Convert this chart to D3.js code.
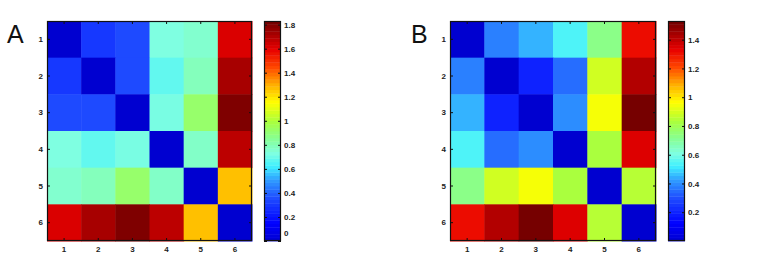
<!DOCTYPE html>
<html>
<head>
<meta charset="utf-8">
<script src="https://cdn.jsdelivr.net/npm/d3@7"></script>
<style>
  body { margin: 0; background: #fff; }
  svg { display: block; }
  text { font-family: "Liberation Sans", Arial, sans-serif; }
</style>
</head>
<body>
<div id="chart"></div>
<script>
// node labels on both axes
const nodes = [1, 2, 3, 4, 5, 6];

// panel A distance matrix (symmetric)
const distA = [
  [0.00, 0.30, 0.35, 0.73, 0.76, 1.62],
  [0.30, 0.00, 0.35, 0.68, 0.79, 1.72],
  [0.35, 0.35, 0.00, 0.72, 0.92, 1.80],
  [0.73, 0.68, 0.72, 0.00, 0.77, 1.68],
  [0.76, 0.79, 0.92, 0.77, 0.00, 1.27],
  [1.62, 1.72, 1.80, 1.68, 1.27, 0.00]
];

// panel B distance matrix (symmetric)
const distB = [
  [0.00, 0.38, 0.45, 0.54, 0.73, 1.31],
  [0.38, 0.00, 0.20, 0.35, 0.89, 1.42],
  [0.45, 0.20, 0.00, 0.40, 0.95, 1.52],
  [0.54, 0.35, 0.40, 0.00, 0.83, 1.35],
  [0.73, 0.89, 0.95, 0.83, 0.00, 0.85],
  [1.31, 1.42, 1.52, 1.35, 0.85, 0.00]
];

// colour limits and colorbar ticks
const climA = [0, 1.83];
const climB = [0, 1.53];
const ticksA = [0, 0.2, 0.4, 0.6, 0.8, 1, 1.2, 1.4, 1.6, 1.8];
const ticksB = [0.2, 0.4, 0.6, 0.8, 1, 1.2, 1.4];

// jet-like colormap as rendered in the figure
const jetPos = [0, 0.08, 0.2, 0.28, 0.34, 0.40, 0.47, 0.54, 0.63, 0.71, 0.79, 0.87, 1];
const jetCol = ["#0000d0", "#0000ff", "#2050ff", "#30a0ff", "#40f0ff", "#80ffe0",
                "#88ff90", "#a8ff40", "#ffff00", "#ffb000", "#ff4800", "#e80000", "#700000"];

const width = 764, height = 272;

const svg = d3.select("#chart")
  .append("svg")
  .attr("width", width)
  .attr("height", height);

const panels = [
  { name: "A", data: distA, clim: climA, ticks: ticksA, x: 47, w: 205, cbx: 264, lx: 7 },
  { name: "B", data: distB, clim: climB, ticks: ticksB, x: 450, w: 206, cbx: 668, lx: 411 }
];

const plotTop = 21, plotH = 220, cbW = 17;

panels.forEach(function(p) {
  const plotW = p.w;

  const frac = d3.scaleLinear().domain(p.clim).range([0, 1]).clamp(true);
  const cmap = d3.scaleLinear().domain(jetPos).range(jetCol).interpolate(d3.interpolateRgb);
  const color = v => cmap(frac(v));

  const x = d3.scaleBand().domain(nodes).range([0, plotW]);
  const y = d3.scaleBand().domain(nodes).range([0, plotH]);

  const g = svg.append("g")
    .attr("transform", "translate(" + p.x + "," + plotTop + ")");

  const cells = [];
  p.data.forEach(function(row, i) {
    row.forEach(function(v, j) { cells.push({ r: nodes[i], c: nodes[j], v: v }); });
  });

  g.selectAll("rect.cell")
    .data(cells)
    .enter()
    .append("rect")
    .attr("class", "cell")
    .attr("x", d => x(d.c))
    .attr("y", d => y(d.r))
    .attr("width", x.bandwidth() + 0.5)
    .attr("height", y.bandwidth() + 0.5)
    .attr("fill", d => color(d.v));

  const styleAxis = function(sel) {
    sel.select(".domain").remove();
    sel.selectAll(".tick line").attr("stroke", "#111");
    sel.selectAll(".tick text")
      .attr("fill", "#222")
      .style("font-size", "8px")
      .style("font-weight", "bold");
  };

  g.append("g")
    .attr("transform", "translate(0," + plotH + ")")
    .call(d3.axisBottom(x).tickSize(-3).tickPadding(5))
    .call(styleAxis);
  g.append("g")
    .call(d3.axisTop(x).tickSize(-3).tickFormat(""))
    .call(styleAxis);
  g.append("g")
    .call(d3.axisLeft(y).tickSize(-3).tickPadding(4))
    .call(styleAxis);
  g.append("g")
    .attr("transform", "translate(" + plotW + ",0)")
    .call(d3.axisRight(y).tickSize(-3).tickFormat(""))
    .call(styleAxis);

  g.append("rect")
    .attr("x", 0.5).attr("y", 0.5)
    .attr("width", plotW - 1).attr("height", plotH - 1)
    .attr("fill", "none")
    .attr("stroke", "#111")
    .attr("stroke-width", 1.2);

  // panel letter
  svg.append("text")
    .attr("x", p.lx)
    .attr("y", 43)
    .style("font-size", "25px")
    .attr("fill", "#111")
    .text(p.name);

  // colorbar
  const cb = svg.append("g")
    .attr("transform", "translate(" + p.cbx + "," + plotTop + ")");
  const cy = d3.scaleLinear().domain(p.clim).range([plotH, 0]);
  const nBands = 64;
  const bandH = plotH / nBands;

  cb.selectAll("rect.band")
    .data(d3.range(nBands))
    .enter()
    .append("rect")
    .attr("class", "band")
    .attr("x", 0)
    .attr("y", d => plotH - (d + 1) * bandH)
    .attr("width", cbW)
    .attr("height", bandH + 0.4)
    .attr("fill", d => cmap((d + 0.5) / nBands));

  const fmt = d => (d === 0 ? "0" : d3.format("~g")(d));

  cb.append("g")
    .attr("transform", "translate(" + cbW + ",0)")
    .call(d3.axisRight(cy).tickValues(p.ticks).tickSize(-3).tickPadding(3).tickFormat(fmt))
    .call(styleAxis)
    .call(s => s.selectAll(".tick text")
      .filter(d => d === p.clim[0])
      .attr("dy", "-0.7em"));
  cb.append("g")
    .call(d3.axisLeft(cy).tickValues(p.ticks).tickSize(-3).tickFormat(""))
    .call(styleAxis);

  cb.append("rect")
    .attr("x", 0.5).attr("y", 0.5)
    .attr("width", cbW - 1).attr("height", plotH - 1)
    .attr("fill", "none")
    .attr("stroke", "#111")
    .attr("stroke-width", 1.2);
});
</script>
</body>
</html>
